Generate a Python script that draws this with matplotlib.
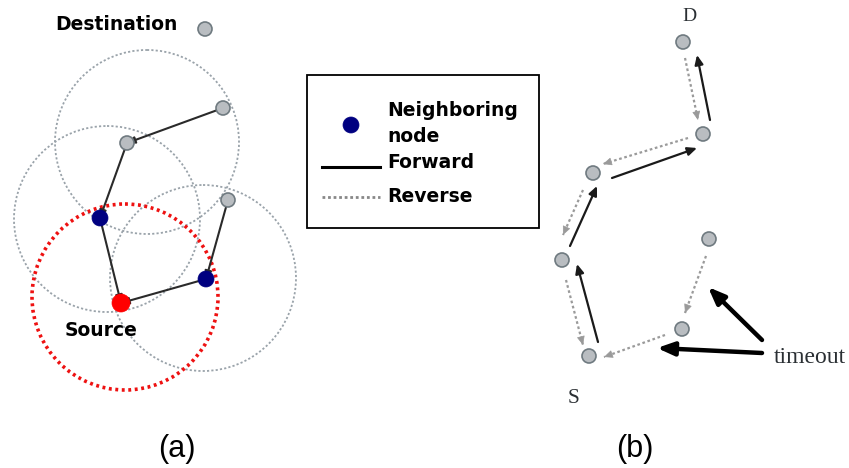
import numpy as np
import matplotlib.pyplot as plt
from matplotlib.patches import Circle, Rectangle

# ---- panel (a): nodes (pixel coords of the original picture) ----
gray_a = [(205, 29), (223, 108), (127, 143), (228, 200)]
blue_a = [(100, 218), (206, 279)]
source_a = (121, 303)
# transmission range circles: centre x, centre y, radius
ranges_a = [(147, 142, 92), (107, 219, 93), (203, 278, 93)]
source_range = (125, 297, 93)
# forward links (from, to)
fwd_a = [((223, 108), (127, 143)), ((127, 143), (100, 218)),
         ((100, 218), (121, 303)), ((228, 200), (206, 279)),
         ((206, 279), (121, 303))]

# ---- panel (b) ----
nodes_b = [(683, 42), (703, 134), (593, 173), (562, 260), (589, 356),
           (709, 239), (682, 329)]
# (start, end, kind)  kind: f = forward (solid), r = reverse (dotted)
links_b = [((710, 120), (697, 55), 'f'), ((685, 58), (698, 120), 'r'),
           ((612, 178), (697, 148), 'f'), ((688, 138), (603, 164), 'r'),
           ((570, 246), (597, 186), 'f'), ((583, 190), (563, 235), 'r'),
           ((598, 342), (577, 264), 'f'), ((566, 280), (583, 345), 'r'),
           ((706, 256), (685, 313), 'r'), ((665, 335), (604, 357), 'r')]
timeout_arrows = [((762, 340), (708, 287)), ((762, 353), (657, 348))]

NODE_GRAY = '#b9bdc1'
EDGE_GRAY = '#6f7a80'
NAVY = '#000080'

fig = plt.figure(figsize=(8.49, 4.68), dpi=100)
ax = fig.add_axes([0, 0, 1, 1])
ax.set_xlim(0, 849)
ax.set_ylim(468, 0)
ax.axis('off')


def node(xy, r=6.5, fc=NODE_GRAY, ec=EDGE_GRAY, lw=1.2, z=5):
    ax.add_patch(Circle(xy, r, facecolor=fc, edgecolor=ec, linewidth=lw, zorder=z))


def arrow(p0, p1, color='#222222', lw=1.6, ls='-', head=0.6, z=4):
    style = '-|>,head_length=%g,head_width=%g' % (head, head * 0.45)
    if ls == '-':
        ax.annotate('', xy=p1, xytext=p0, zorder=z,
                    arrowprops=dict(arrowstyle=style, color=color, lw=lw,
                                    shrinkA=0, shrinkB=0))
    else:
        ax.plot([p0[0], p1[0]], [p0[1], p1[1]], color=color, lw=lw, ls=ls, zorder=z)
        d = np.subtract(p1, p0)
        d = d / np.hypot(*d)
        q = (p1[0] - d[0] * 2, p1[1] - d[1] * 2)
        ax.annotate('', xy=p1, xytext=q, zorder=z,
                    arrowprops=dict(arrowstyle=style, color=color, lw=0.5,
                                    shrinkA=0, shrinkB=0))


# panel (a)
for cx, cy, r in ranges_a:
    ax.add_patch(Circle((cx, cy), r, fill=False, edgecolor='#9aa3aa', lw=1.3,
                        ls=(0, (1.2, 1.2)), zorder=2))
cx, cy, r = source_range
ax.add_patch(Circle((cx, cy), r, fill=False, edgecolor='#ee1111', lw=2.6,
                    ls=(0, (0.8, 1.0)), zorder=3))
for p0, p1 in fwd_a:
    arrow(p0, p1, color='#2a2a2a', lw=1.5, head=0.45)
for p in gray_a:
    node(p, r=7)
for p in blue_a:
    node(p, r=8, fc=NAVY, ec=NAVY, lw=0.5)
node(source_a, r=9, fc='#ff0000', ec='#ff0000', lw=0.5)

bold = dict(fontweight='bold', fontsize=13.5, family='DejaVu Sans')
ax.text(116, 25, 'Destination', ha='center', va='center', **bold)
ax.text(101, 330, 'Source', ha='center', va='center', **bold)

# legend box
ax.add_patch(Rectangle((307, 75), 232, 153, fill=False, edgecolor='black', lw=1.3, zorder=3))
node((351, 125), r=8, fc=NAVY, ec=NAVY, lw=0.5)
ax.text(387, 110, 'Neighboring', ha='left', va='center', **bold)
ax.text(387, 136, 'node', ha='left', va='center', **bold)
ax.plot([322, 380], [167, 167], color='black', lw=2.2)
ax.text(387, 163, 'Forward', ha='left', va='center', **bold)
ax.plot([322, 380], [197, 197], color='#888888', lw=2.0, ls=(0, (1, 1)))
ax.text(387, 196, 'Reverse', ha='left', va='center', **bold)

# panel (b)
for p0, p1, kind in links_b:
    if kind == 'f':
        arrow(p0, p1, color='#1a1a1a', lw=1.6, head=0.55)
    else:
        arrow(p0, p1, color='#9a9a9a', lw=1.6, ls=(0, (1.2, 1.2)), head=0.55)
for p in nodes_b:
    node(p, r=7)
for p0, p1 in timeout_arrows:
    ax.annotate('', xy=p1, xytext=p0, zorder=6,
                arrowprops=dict(arrowstyle='-|>,head_length=1.0,head_width=0.4',
                                color='black', lw=3.2, shrinkA=0, shrinkB=0))
serif = dict(family='Liberation Serif', fontsize=15.5, color='#2a2f33')
ax.text(689, 21, 'D', ha='center', va='baseline', fontsize=14, family='Liberation Serif',
        color='#2a2f33')
ax.text(574, 403, 'S', ha='center', va='baseline', **serif)
ax.text(774, 363, 'timeout', ha='left', va='baseline', family='Liberation Serif',
        fontsize=17, color='#2a2f33')

# sub-captions
cap = dict(family='Liberation Sans', fontsize=22, ha='center', va='center')
ax.text(177, 449, '(a)', **cap)
ax.text(635, 449, '(b)', **cap)

fig.savefig('out.png', dpi=100)
